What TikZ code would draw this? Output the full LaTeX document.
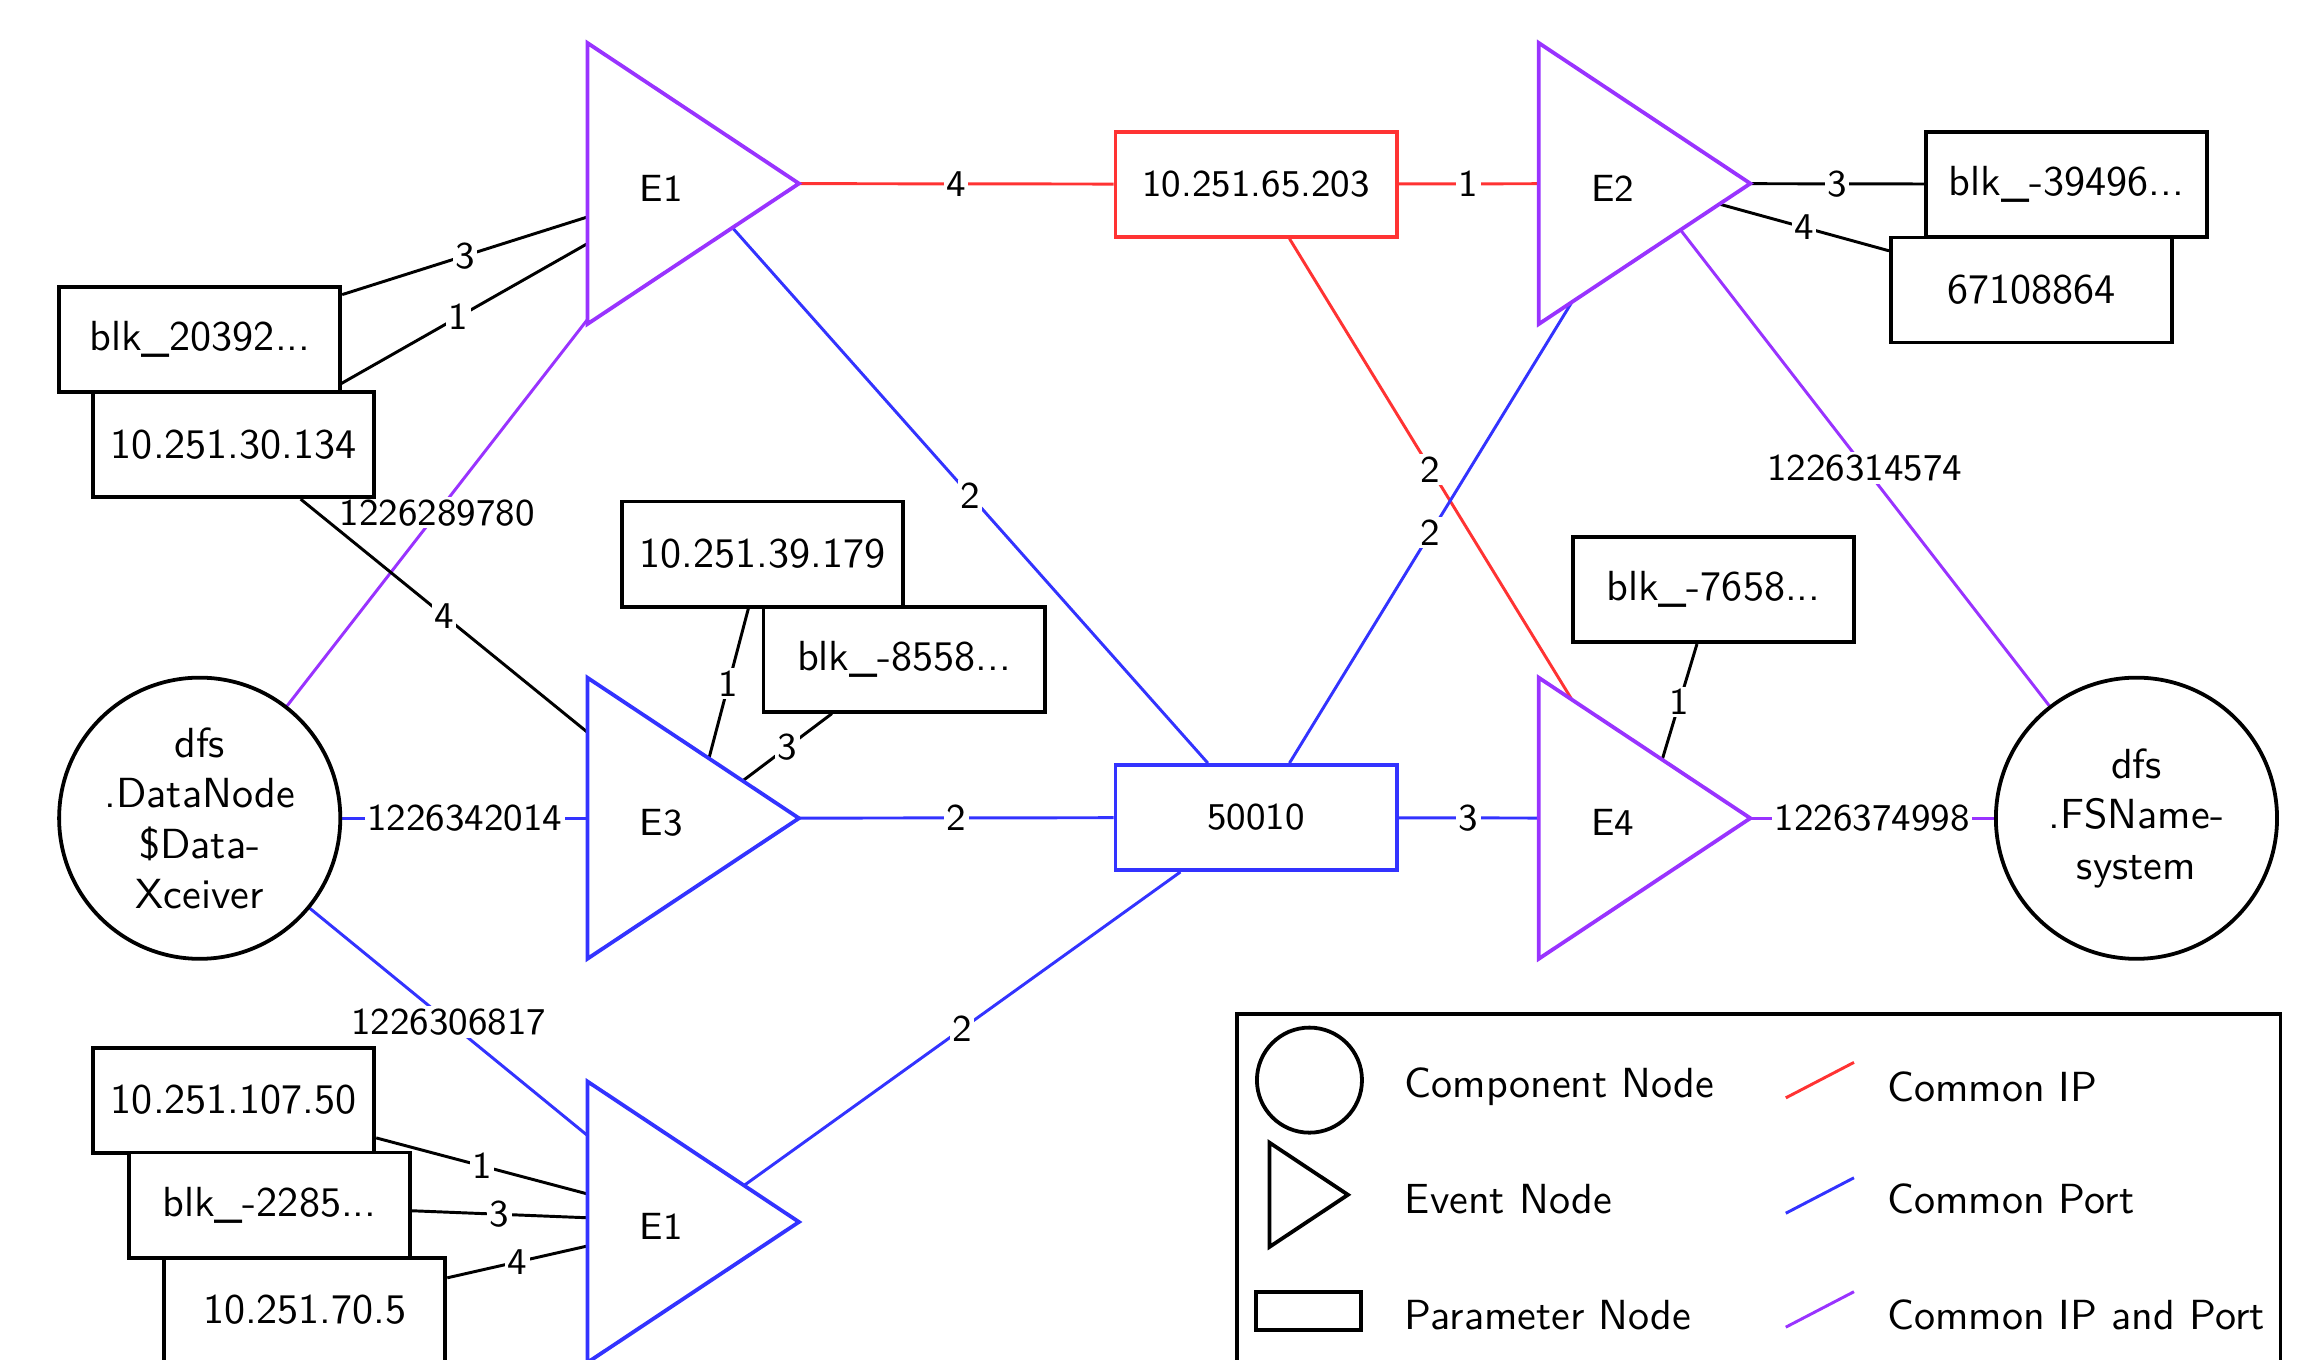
\documentclass[tikz,border=0pt]{standalone}
\usepackage{xcolor}
\usepackage{tikz}
\usetikzlibrary{
  positioning,
  shapes.geometric,
  backgrounds
}
\renewcommand{\familydefault}{\sfdefault}
\definecolor{linkred}{HTML}{FF3333}
\definecolor{linkblue}{HTML}{3333FF}
\definecolor{linkpurple}{HTML}{9933FF}

\begin{document}
\begin{tikzpicture}[
  cnode/.style={
    draw, circle, minimum size=23.47mm, inner sep=0pt, align=center,
    fill=white, line width=0.9pt,
  },
  enode/.style={
    draw, isosceles triangle, isosceles triangle apex angle=67.2,
    inner sep=0pt, outer sep=0pt, text width=17.66mm, text height=0pt, text depth=0pt,
    fill=white, line width=0.9pt,
  },
  pbox/.style={
    draw, rectangle, minimum width=23.47mm, minimum height=8.77mm, inner sep=0pt,
    fill=white, line width=0.9pt,
  },
  ipbox/.style={pbox, draw=linkred, font=\small},
  portbox/.style={pbox, draw=linkblue, font=\small},
  plink/.style={line width=0.7pt},
  iplink/.style={plink, draw=linkred},
  portlink/.style={plink, draw=linkblue},
  bothlink/.style={plink, draw=linkpurple},
  elab/.style={fill=white, inner sep=0.6pt, font=\small},
  etext/.style={font=\small, xshift=-2.66mm, yshift=-0.37mm},
  ltext/.style={anchor=west, inner sep=0pt},
]
\useasboundingbox (0,0) rectangle (19.365,11.35);

% event nodes
\node[enode, draw=linkpurple, label={[etext]center:E1}] (E1a) at (5.786,9.818) {};
\node[enode, draw=linkpurple, label={[etext]center:E2}] (E2) at (13.727,9.818) {};
\node[enode, draw=linkblue, label={[etext]center:E3}] (E3) at (5.786,4.520) {};
\node[enode, draw=linkpurple, label={[etext]center:E4}] (E4) at (13.727,4.520) {};
\node[enode, draw=linkblue, label={[etext]center:E1}] (E1b) at (5.786,1.150) {};

% component nodes
\node[cnode] (dn) at (1.667,4.520) {dfs\\.DataNode\\\$Data-\\Xceiver};
\node[cnode] (fsn) at (17.833,4.520) {dfs\\.FSName-\\system};

% parameter nodes
\node[ipbox] (ip65) at (10.485,9.812) {10.251.65.203};
\node[portbox] (port) at (10.485,4.526) {50010};
\node[pbox] (blk20392) at (1.667,8.515) {blk\_20392...};
\node[pbox] (ip30) at (1.951,7.638) {10.251.30.134};
\node[pbox] (ip39) at (6.366,6.725) {10.251.39.179};
\node[pbox] (blk8558) at (7.546,5.848) {blk\_-8558...};
\node[pbox] (blk39496) at (17.247,9.812) {blk\_-39496...};
\node[pbox] (len671) at (16.957,8.929) {67108864};
\node[pbox] (blk7658) at (14.301,6.428) {blk\_-7658...};
\node[pbox] (ip107) at (1.951,2.167) {10.251.107.50};
\node[pbox] (blk2285) at (2.248,1.291) {blk\_-2285...};
\node[pbox] (ip70) at (2.544,0.414) {10.251.70.5};

% links
\begin{pgfonlayer}{background}
\draw[iplink] (E1a) -- node[elab] {4} (ip65);
\draw[iplink] (ip65) -- node[elab] {1} (E2);
\draw[iplink] (ip65) -- node[elab] {2} (E4);
\draw[plink] (E2) -- node[elab] {3} (blk39496);
\draw[plink] (E2) -- node[elab] {4} (len671);
\draw[bothlink] (E2) -- node[elab] {1226314574} (fsn);
\draw[portlink] (E1a) -- node[elab] {2} (port);
\draw[portlink] (port) -- node[elab] {2} (E2);
\draw[plink] (blk20392) -- node[elab] {3} (E1a);
\draw[plink] (ip30) -- node[elab] {1} (E1a);
\draw[bothlink] (E1a) -- node[elab] {1226289780} (dn);
\draw[plink] (ip30) -- node[elab] {4} (E3);
\draw[plink] (ip39) -- node[elab] {1} (E3);
\draw[plink] (blk8558) -- node[elab] {3} (E3);
\draw[portlink] (dn) -- node[elab] {1226342014} (E3);
\draw[portlink] (E3) -- node[elab] {2} (port);
\draw[portlink] (port) -- node[elab] {3} (E4);
\draw[plink] (blk7658) -- node[elab] {1} (E4);
\draw[bothlink] (E4) -- node[elab] {1226374998} (fsn);
\draw[portlink] (dn) -- node[elab] {1226306817} (E1b);
\draw[portlink] (E1b) -- node[elab] {2} (port);
\draw[plink] (ip107) -- node[elab] {1} (E1b);
\draw[plink] (blk2285) -- node[elab] {3} (E1b);
\draw[plink] (ip70) -- node[elab] {4} (E1b);
\end{pgfonlayer}

% legend
\node[draw, line width=0.9pt, minimum width=87.07mm, minimum height=34mm, inner sep=0pt,
  anchor=north west] (legend) at (10.312,2.902) {};
\node[cnode, minimum size=8.77mm] (lcomp) at (10.930,2.334) {};
\node[enode, text width=6.55mm] (levent) at (10.924,1.377) {};
\node[pbox, minimum width=8.77mm, minimum height=3.21mm] (lparam) at (10.924,0.408) {};
\node[ltext] (tcomp) at (11.72,2.275) {Component Node};
\node[ltext] (tevent) at (11.72,1.340) {Event Node};
\node[ltext] (tparam) at (11.72,0.373) {Parameter Node};
\draw[iplink] (14.906,2.186) -- (15.475,2.482);
\draw[portlink] (14.906,1.223) -- (15.475,1.519);
\draw[bothlink] (14.906,0.272) -- (15.475,0.568);
\node[ltext] (tip) at (15.746,2.275) {Common IP};
\node[ltext] (tport) at (15.746,1.340) {Common Port};
\node[ltext] (tboth) at (15.746,0.373) {Common IP and Port};

\end{tikzpicture}
\end{document}
